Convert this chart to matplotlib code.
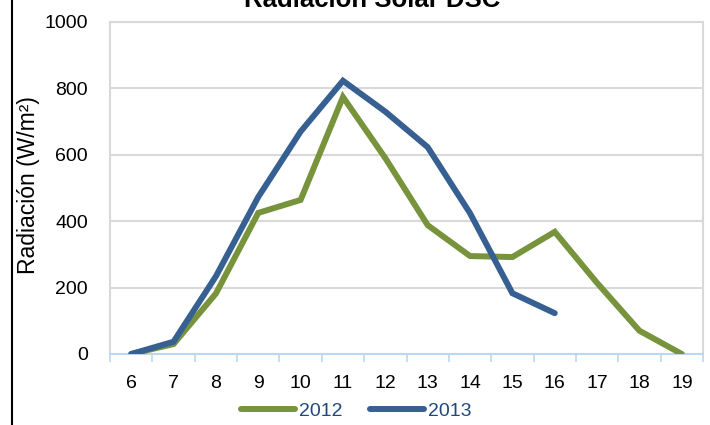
import matplotlib
matplotlib.use("Agg")
import matplotlib.pyplot as plt
from matplotlib.lines import Line2D

hours = [6, 7, 8, 9, 10, 11, 12, 13, 14, 15, 16, 17, 18, 19]
rad_2012 = [0, 30, 182, 425, 464, 774, 590, 388, 295, 292, 368, 214, 70, 0]
rad_2013 = [0, 37, 234, 473, 670, 823, 730, 623, 424, 183, 123]
yticks = [0, 200, 400, 600, 800, 1000]

plt.rcParams['font.family'] = ['Liberation Sans', 'DejaVu Sans']

green = "#77933C"
blue = "#376092"

fig = plt.figure(figsize=(7.1, 4.25), dpi=100)
ax = fig.add_axes([110/710, 1-354/425, (703-110)/710, (354-22)/425])

x12 = list(range(len(rad_2012)))
x13 = list(range(len(rad_2013)))
ax.plot(x12, rad_2012, color=green, lw=4.3, solid_capstyle='round', solid_joinstyle='miter', label='2012', zorder=3)
ax.plot(x13, rad_2013, color=blue, lw=4.3, solid_capstyle='round', solid_joinstyle='miter', label='2013', zorder=4)

ax.set_xlim(-0.5, len(hours) - 0.5)
ax.set_ylim(0, 1000)
ax.set_yticks(yticks)
ax.set_yticklabels([str(v) for v in yticks], fontsize=14)
ax.set_xticks(range(len(hours)))
ax.set_xticklabels([str(h) for h in hours], fontsize=14)
ax.set_xticks([i - 0.5 for i in range(len(hours) + 1)], minor=True)
ax.tick_params(axis='x', which='major', length=0, pad=15)
ax.tick_params(axis='x', which='minor', length=6, color='#BDD7EE', width=1.2)
ax.tick_params(axis='y', length=0, pad=16)

ax.grid(axis='y', color='#D9D9D9', lw=1.5, zorder=0)
for s in ['left', 'right', 'top']:
    ax.spines[s].set_color('#D9D9D9')
    ax.spines[s].set_linewidth(1.5)
ax.spines['bottom'].set_color('#BDD7EE')
ax.spines['bottom'].set_linewidth(1.5)

ax.set_ylabel('Radiación (W/m²)', fontsize=16.5)
ax.yaxis.set_label_coords((40-110)/593, 0.51)

fig.text(372/710, 1-7/425, 'Radiación Solar DSC', ha='center', va='baseline',
         fontsize=18.5, fontweight='bold')

leg = fig.legend(loc='center', bbox_to_anchor=(356/710, 1-411/425), ncol=2, frameon=False,
                 fontsize=14, handlelength=2.8, columnspacing=1.4, handletextpad=0.2,
                 borderpad=0, borderaxespad=0)
for t in leg.get_texts():
    t.set_color('#1F497D')

fig.add_artist(Line2D([12/710, 12/710], [0, 1], color='black', lw=1.5, transform=fig.transFigure))

fig.savefig('out.png', dpi=100)
